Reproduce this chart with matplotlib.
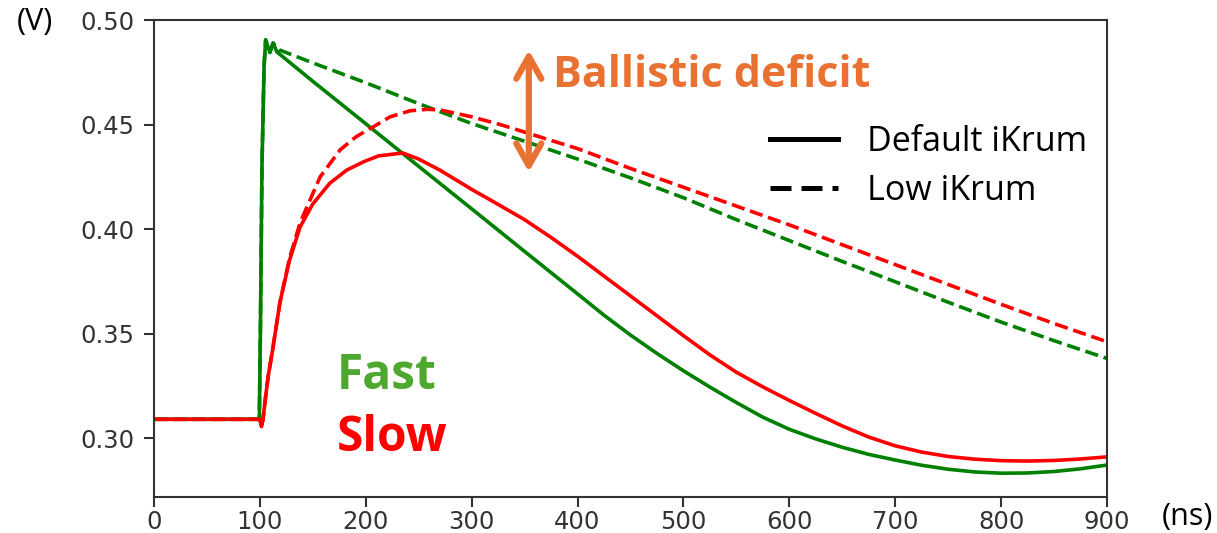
import matplotlib
matplotlib.use("Agg")
import matplotlib.pyplot as plt
from matplotlib.lines import Line2D

# amplifier output, fast / slow input, default vs low Krummenacher current
t_fast_def = [0, 99.5, 100.5, 102, 104, 105.5, 107, 109.5, 112.5, 116, 150, 200, 250, 300,
              350, 400, 425, 450, 475, 500, 525, 550, 575, 600, 625, 650, 675, 700,
              725, 750, 775, 800, 825, 850, 875, 900]
v_fast_def = [0.309, 0.309, 0.350, 0.430, 0.478, 0.4905, 0.4880, 0.4845, 0.4890, 0.4848,
              0.4707, 0.4504, 0.4300, 0.4097, 0.3893, 0.3690, 0.3588, 0.3493, 0.3405,
              0.3322, 0.3244, 0.3170, 0.3100, 0.3042, 0.2996, 0.2956, 0.2922, 0.2895,
              0.2870, 0.2851, 0.2838, 0.2832, 0.2833, 0.2840, 0.2853, 0.2871]

t_fast_low = [0, 99.5, 100.5, 102, 104, 105.5, 107, 109.5, 112.5, 118, 150, 200, 250, 300,
              350, 400, 450, 500, 550, 600, 650, 700, 750, 800, 850, 900]
v_fast_low = [0.309, 0.309, 0.350, 0.430, 0.478, 0.4905, 0.4880, 0.4845, 0.4890, 0.4858,
              0.4795, 0.4700, 0.4600, 0.4505, 0.4420, 0.4335, 0.4245, 0.4150, 0.4045,
              0.3945, 0.3845, 0.3748, 0.3650, 0.3555, 0.3466, 0.3381]

t_slow_def = [0, 100, 101.5, 103, 105, 108, 112, 119, 128, 138, 150, 166, 182, 198, 212,
              235, 250, 270, 300, 325, 350, 375, 400, 425, 450, 475, 500, 525, 550, 575,
              600, 625, 650, 675, 700, 725, 750, 775, 800, 825, 850, 875, 900]
v_slow_def = [0.309, 0.309, 0.3055, 0.309, 0.318, 0.330, 0.342, 0.365, 0.385, 0.401, 0.412,
              0.4219, 0.4282, 0.4322, 0.4350, 0.4364, 0.4335, 0.4282, 0.4190, 0.4118,
              0.4045, 0.3960, 0.3870, 0.3775, 0.3680, 0.3585, 0.3490, 0.3398, 0.3315,
              0.3245, 0.3180, 0.3118, 0.3058, 0.3005, 0.2963, 0.2933, 0.2912, 0.2899,
              0.2892, 0.2890, 0.2893, 0.2900, 0.2910]

t_slow_low = [0, 100, 101.5, 103, 105, 108, 112, 119, 128, 138, 144, 157, 176, 191, 207,
              223, 242, 258, 270, 283, 300, 327, 343, 370, 400, 450, 500, 550, 600, 650,
              700, 750, 800, 850, 900]
v_slow_low = [0.309, 0.309, 0.3055, 0.309, 0.318, 0.330, 0.342, 0.365, 0.386, 0.403, 0.410,
              0.425, 0.438, 0.4442, 0.4489, 0.4537, 0.4566, 0.4573, 0.4570, 0.4556, 0.4537,
              0.4500, 0.4475, 0.4432, 0.4385, 0.4290, 0.4200, 0.4110, 0.4020, 0.3925,
              0.3830, 0.3735, 0.3640, 0.3548, 0.3461]

x_ticks = [0, 100, 200, 300, 400, 500, 600, 700, 800, 900]
y_ticks = [0.30, 0.35, 0.40, 0.45, 0.50]

ORANGE = "#E97132"
GREEN_TXT = "#4EA72E"
note_font = ["Open Sans", "DejaVu Sans"]

fig = plt.figure(figsize=(12.17, 5.33), dpi=100)
ax = fig.add_axes([0.1265, 0.0675, 0.7831, 0.8949])

lw = 2.6
ax.plot(t_fast_def, v_fast_def, color="green", lw=lw)
ax.plot(t_slow_def, v_slow_def, color="red", lw=lw)
ax.plot(t_fast_low, v_fast_low, color="green", lw=lw, ls="--")
ax.plot(t_slow_low, v_slow_low, color="red", lw=lw, ls="--")

ax.set_xlim(0, 900)
ax.set_ylim(0.2718, 0.5)
ax.set_xticks(x_ticks)
ax.set_yticks(y_ticks)
ax.set_yticklabels([f"{v:.2f}" for v in y_ticks])
ax.tick_params(axis="both", labelsize=17.5, length=7, width=1.5, colors="#333333")
ax.tick_params(axis="x", pad=2)
ax.tick_params(axis="y", pad=7)
for sp in ax.spines.values():
    sp.set_linewidth(1.5)
    sp.set_color("#333333")

# unit labels
fig.text(35 / 1217, 1 - 22 / 533, "(V)", ha="center", va="center",
         fontsize=22, family=note_font)
fig.text(1187 / 1217, 1 - 517 / 533, "(ns)", ha="center", va="center",
         fontsize=22, family=note_font)

# annotations
fig.text(553 / 1217, 1 - 87 / 533, "Ballistic deficit", ha="left", va="baseline",
         fontsize=31, fontweight="bold", color=ORANGE, family=note_font)
fig.text(337 / 1217, 1 - 389 / 533, "Fast", ha="left", va="baseline",
         fontsize=34.5, fontweight="bold", color=GREEN_TXT, family=note_font)
fig.text(337 / 1217, 1 - 451 / 533, "Slow", ha="left", va="baseline",
         fontsize=34.5, fontweight="bold", color="red", family=note_font)

ax.annotate("", xy=(354, 0.4856), xytext=(354, 0.4273),
            arrowprops=dict(arrowstyle="<->,head_length=1.6,head_width=0.9",
                            color=ORANGE, lw=4.5, shrinkA=0, shrinkB=0))

handles = [Line2D([], [], color="black", lw=3.6, ls="-"),
           Line2D([], [], color="black", lw=3.6, dashes=(4.2, 2.0))]
leg = ax.legend(handles, ["Default iKrum", "Low iKrum"], loc="upper left",
                bbox_to_anchor=(770 / 1217, 1 - 125 / 533),
                bbox_transform=fig.transFigure, frameon=False, borderpad=0,
                borderaxespad=0, handlelength=2.0, handletextpad=0.85,
                labelspacing=0.45, prop={"family": note_font, "size": 24.5})

fig.savefig("out.png", dpi=100)
